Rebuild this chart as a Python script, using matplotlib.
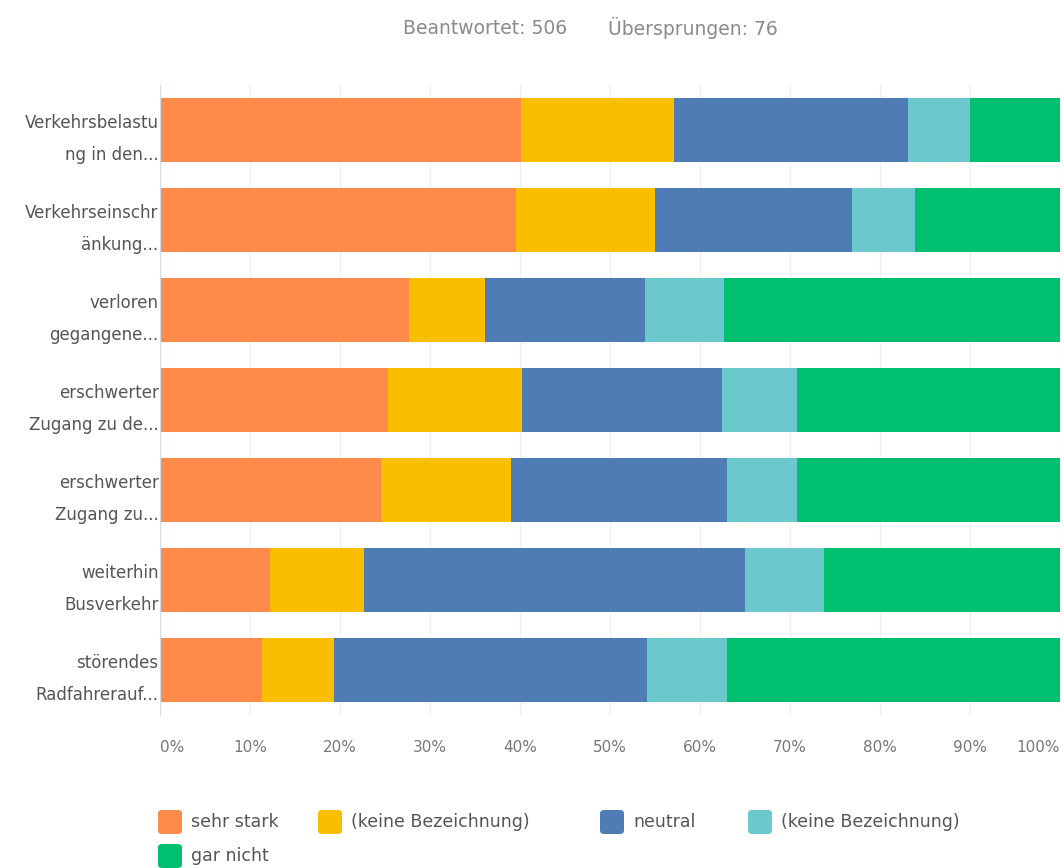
import numpy as np
import matplotlib
matplotlib.use("Agg")
import matplotlib.pyplot as plt
from matplotlib.patches import FancyBboxPatch

plt.rcParams["font.family"] = ["DejaVu Sans"]

# Antworten je Aussage in Prozent (Reihenfolge von oben nach unten)
kategorien = [
    "Verkehrsbelastu\nng in den...",
    "Verkehrseinschr\nänkung...",
    "verloren\ngegangene...",
    "erschwerter\nZugang zu de...",
    "erschwerter\nZugang zu...",
    "weiterhin\nBusverkehr",
    "störendes\nRadfahrerauf...",
]
sehr_stark = [40.1, 39.6, 27.7, 25.3, 24.6, 12.2, 11.3]
keine_bez_1 = [17.0, 15.4, 8.4, 14.9, 14.4, 10.5, 8.0]
neutral = [26.0, 21.9, 17.8, 22.2, 24.0, 42.3, 34.8]
keine_bez_2 = [6.9, 7.0, 8.8, 8.4, 7.8, 8.8, 8.9]
gar_nicht = [10.0, 16.1, 37.3, 29.2, 29.2, 26.2, 37.0]

serien = ["sehr stark", "(keine Bezeichnung)", "neutral", "(keine Bezeichnung)", "gar nicht"]
farben = ["#FF8B4A", "#F9BE00", "#507CB6", "#6BC8CD", "#00BF6F"]
x_ticks = [0, 10, 20, 30, 40, 50, 60, 70, 80, 90, 100]

W, H = 1064, 868
fig = plt.figure(figsize=(W / 100, H / 100), dpi=100)
ax = fig.add_axes([160 / W, 1 - 715 / H, 900 / W, 630 / H])

y = np.arange(len(kategorien))
links = np.zeros(len(kategorien))
for werte, farbe in zip([sehr_stark, keine_bez_1, neutral, keine_bez_2, gar_nicht], farben):
    ax.barh(y, werte, left=links, height=0.72, color=farbe, zorder=2)
    links += np.array(werte)

ax.set_xlim(0, 100)
ax.set_ylim(len(kategorien) - 0.5, -0.5)
ax.set_yticks(y)
ax.set_yticklabels(kategorien, fontsize=12, color="#555555", linespacing=2.0)
ax.set_xticks(x_ticks)
ax.set_xticklabels([f"{t}%" for t in x_ticks], fontsize=11, color="#777777")
# erste und letzte Beschriftung bündig an den Rand
xt = ax.get_xticklabels()
xt[0].set_ha("left")
xt[-1].set_ha("right")
ax.tick_params(axis="both", length=0)
ax.tick_params(axis="x", pad=18)
ax.tick_params(axis="y", pad=1)
ax.grid(axis="x", color="#eef0f3", linewidth=1, zorder=0)
for s in ["top", "right", "bottom"]:
    ax.spines[s].set_visible(False)
ax.spines["left"].set_color("#d5dbe3")

fig.text(567 / W, 1 - 28 / H, "Beantwortet: 506", ha="right", va="center",
         fontsize=13.5, color="#8a8a8a")
fig.text(608 / W, 1 - 28 / H, "Übersprungen: 76", ha="left", va="center",
         fontsize=13.5, color="#8a8a8a")

# Legende von Hand: vier Einträge in Zeile 1, einer in Zeile 2
leg_pos = [(158, 822), (318, 822), (600, 822), (748, 822), (158, 856)]
for (px, py), name, farbe in zip(leg_pos, serien, farben):
    fig.patches.append(FancyBboxPatch(
        ((px) / W, 1 - (py + 12) / H), 24 / W, 24 / H,
        boxstyle="round,pad=0,rounding_size=0.004",
        transform=fig.transFigure, facecolor=farbe, edgecolor="none"))
    fig.text((px + 33) / W, 1 - py / H, name, ha="left", va="center",
             fontsize=12.5, color="#555555")

fig.savefig("out.png", dpi=100, facecolor="white")
